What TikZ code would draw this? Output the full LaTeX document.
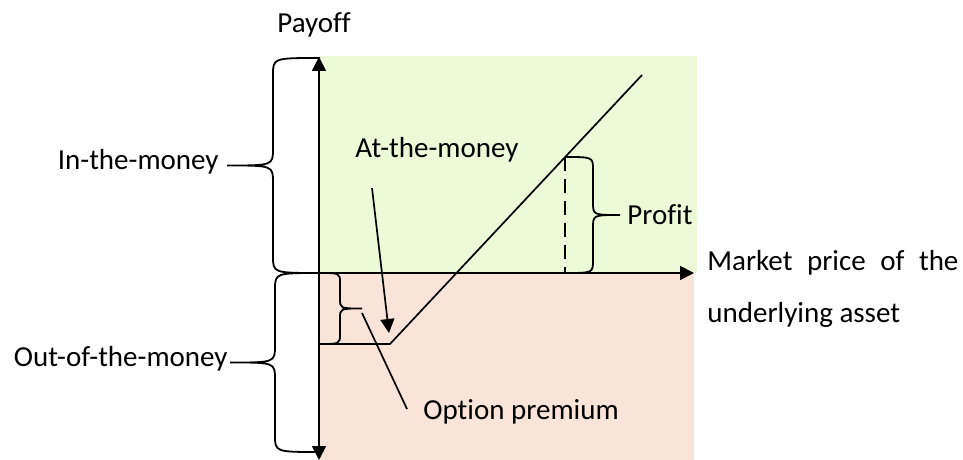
\documentclass[tikz,border=0pt]{standalone}
\usepackage{fontspec}
\setmainfont{Carlito}[Ligatures=NoCommon]
\usetikzlibrary{arrows.meta}
\definecolor{itmgreen}{HTML}{ECFAD8}
\definecolor{otmpink}{HTML}{FAE3D9}
\newcommand{\wordbrace}[6]{% ex, ytop, ybot, spine x, tip x, r
  \pgfmathsetmacro{\ym}{(#2+#3)/2}
  \draw[bracestyle] (#1,#2) .. controls (#4,#2) .. (#4,#2+#6) -- (#4,\ym-#6)
    .. controls (#4,\ym) .. (#5,\ym) .. controls (#4,\ym) .. (#4,\ym+#6)
    -- (#4,#3-#6) .. controls (#4,#3) .. (#1,#3);}
\begin{document}
\begin{tikzpicture}[x=0.5pt,y=-0.5pt,
  lbl/.style={font=\fontsize{14.5pt}{17pt}\selectfont, inner sep=0pt},
  axis/.style={line width=0.9pt, -{Triangle[length=7pt,width=7pt]}},
  bracestyle/.style={line width=0.9pt},
  curve/.style={line width=0.85pt}]
\useasboundingbox (0,0) rectangle (963,460);
% regions
\fill[itmgreen] (320,56) rectangle (697,273);
\fill[otmpink] (320,273) rectangle (694,460);
% axes
\coordinate (ytop) at (319,57);
\coordinate (ybot) at (319,460);
\coordinate (orig) at (319,273);
\coordinate (xend) at (694,273);
\draw[axis] (orig) -- (ytop);
\draw[axis] (orig) -- (ybot);
\draw[axis] (orig) -- (xend);
% payoff line
\coordinate (p0) at (318,344);
\coordinate (kink) at (390,344);
\coordinate (p1) at (642,75);
\draw[curve] (p0) -- (kink) -- (p1);
\coordinate (pt) at (565,157);
\coordinate (pb) at (565,273);
\draw[curve, dashed, dash pattern=on 7pt off 4pt] (pt) -- (pb);
% labels
\node[lbl] (payoff) at (314,25) {Payoff};
\node[lbl, anchor=east] (itm) at (219,162) {In-the-money};
\node[lbl, anchor=east] (otm) at (228,359) {Out-of-the-money};
\node[lbl] (atm) at (437,150) {At-the-money};
\node[lbl, anchor=west] (profit) at (627,215) {Profit};
\node[lbl, anchor=west] (prem) at (423,412) {Option premium};
\node[lbl, anchor=west] (mkt1) at (707,263) {\makebox[125.5pt][s]{Market price of the}};
\node[lbl, anchor=west] (mkt2) at (707,315) {underlying asset};
% braces
\wordbrace{320}{58}{273}{273}{227}{17}
\wordbrace{320}{273}{452}{275}{230}{17}
\wordbrace{565}{157}{273}{593}{620}{13}
\wordbrace{319}{273}{344}{340}{362}{10}
% connectors
\coordinate (atmS) at (372,188);
\coordinate (atmE) at (389,333);
\draw[curve, -{Triangle[length=7pt,width=7pt]}] (atmS) -- (atmE);
\coordinate (premS) at (362,313);
\coordinate (premE) at (407,409);
\draw[curve] (premS) -- (premE);
\end{tikzpicture}
\end{document}
